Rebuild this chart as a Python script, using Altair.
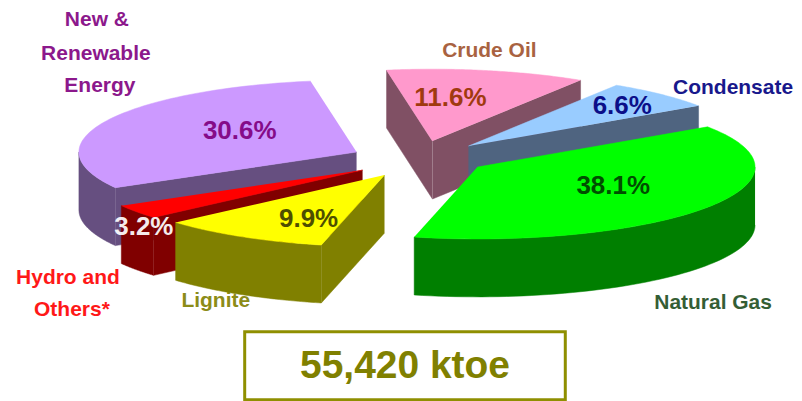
import numpy as np
import pandas as pd
import altair as alt

# Chart values
categories = ["Natural Gas", "Lignite", "Hydro and Others*", "New & Renewable Energy", "Crude Oil", "Condensate"]
shares = [38.1, 9.9, 3.2, 30.6, 11.6, 6.6]
pct_labels = ["38.1%", "9.9%", "3.2%", "30.6%", "11.6%", "6.6%"]
total_label = "55,420 ktoe"

# Styling
top_colors = ["#00FF00", "#FFFF00", "#FF0000", "#CC99FF", "#FF99CC", "#99CCFF"]
side_colors = ["#007F00", "#808000", "#800000", "#664F80", "#805064", "#4F6480"]
pct_colors = ["#004000", "#404000", "#FFFFFF", "#800080", "#993300", "#000080"]
name_colors = ["#1E4D1E", "#808000", "#FF0000", "#800080", "#A0522D", "#000080"]

# Layout (exploded centre of every slice, pie radii and depth, in picture pixels)
centers = [(478, 167), (385, 175), (363, 170), (357, 152), (433, 141), (469, 146)]
RX, RY, DEPTH = 278, 72, 58
start_angle = -34.0
paint_order = [3, 2, 1, 4, 5, 0]
pct_pos = [(614, 186), (309, 219), (144, 227), (240, 131), (451, 98), (623, 106)]
name_pos = [
    [("Natural Gas", 714, 303)],
    [("Lignite", 216, 301)],
    [("Hydro and", 68, 278), ("Others*", 72, 310)],
    [("New &", 97, 20), ("Renewable", 96, 54), ("Energy", 100, 86)],
    [("Crude Oil", 490, 51)],
    [("Condensate", 734, 88)],
]

X_SCALE = alt.Scale(domain=[8, 794], range=[0, 786], nice=False, zero=False)
Y_SCALE = alt.Scale(domain=[8, 401], range=[0, 393], nice=False, zero=False)


def polygon(points, color):
    df = pd.DataFrame(points, columns=["x", "y"])
    df["i"] = range(len(df))
    return alt.Chart(df).mark_line(fill=color, stroke=color, strokeWidth=0.5).encode(
        x=alt.X("x:Q", scale=X_SCALE, axis=None),
        y=alt.Y("y:Q", scale=Y_SCALE, axis=None),
        order="i:Q",
    )


def rim(c, t):
    return (c[0] + RX * np.cos(np.radians(t)), c[1] + RY * np.sin(np.radians(t)))


def low(p):
    return (p[0], p[1] + DEPTH)


bounds = start_angle + np.concatenate([[0], np.cumsum(shares)]) * 3.6
layers = []
for k in paint_order:
    t0, t1 = bounds[k], bounds[k + 1]
    c = centers[k]
    # cut faces facing the viewer
    if np.cos(np.radians(t0)) < 0:
        p = rim(c, t0)
        layers.append(polygon([c, p, low(p), low(c)], side_colors[k]))
    if np.cos(np.radians(t1)) > 0:
        p = rim(c, t1)
        layers.append(polygon([c, p, low(p), low(c)], side_colors[k]))
    # outer wall, front half only
    a, b = max(t0, 0), min(t1, 180)
    if b > a:
        arc = [rim(c, t) for t in np.linspace(a, b, 60)]
        layers.append(polygon(arc + [low(p) for p in arc[::-1]], side_colors[k]))
    # top face
    arc = [rim(c, t) for t in np.linspace(t0, t1, 80)]
    layers.append(polygon([c] + arc, top_colors[k]))

# Percent labels
pct_df = pd.DataFrame({
    "x": [p[0] for p in pct_pos],
    "y": [p[1] for p in pct_pos],
    "t": pct_labels,
    "c": pct_colors,
})
layers.append(
    alt.Chart(pct_df).mark_text(font="Liberation Sans", fontWeight="bold", fontSize=26, opacity=0.92).encode(
        x=alt.X("x:Q", scale=X_SCALE, axis=None),
        y=alt.Y("y:Q", scale=Y_SCALE, axis=None),
        text="t:N",
        color=alt.Color("c:N", scale=None),
    )
)

# Category labels
rows = []
for k, lines in enumerate(name_pos):
    for text, x, y in lines:
        rows.append({"x": x, "y": y, "t": text, "c": name_colors[k]})
layers.append(
    alt.Chart(pd.DataFrame(rows)).mark_text(font="Liberation Sans", fontWeight="bold", fontSize=21, opacity=0.9).encode(
        x=alt.X("x:Q", scale=X_SCALE, axis=None),
        y=alt.Y("y:Q", scale=Y_SCALE, axis=None),
        text="t:N",
        color=alt.Color("c:N", scale=None),
    )
)

# Total box
box_df = pd.DataFrame({"x": [245], "x2": [566], "y": [332], "y2": [400], "t": [total_label], "mx": [405.5], "my": [366]})
layers.append(
    alt.Chart(box_df).mark_rect(fillOpacity=0, stroke="#8F8F00", strokeWidth=3).encode(
        x=alt.X("x:Q", scale=X_SCALE, axis=None), x2="x2:Q",
        y=alt.Y("y:Q", scale=Y_SCALE, axis=None), y2="y2:Q",
    )
)
layers.append(
    alt.Chart(box_df).mark_text(font="Liberation Sans", fontWeight="bold", fontSize=39, color="#808000").encode(
        x=alt.X("mx:Q", scale=X_SCALE, axis=None),
        y=alt.Y("my:Q", scale=Y_SCALE, axis=None),
        text="t:N",
    )
)

chart = alt.layer(*layers).properties(
    width=786, height=393, padding=0, background="white",
).configure_view(stroke=None)

chart.save("out.html", embed_options={"renderer": "svg", "actions": False})
